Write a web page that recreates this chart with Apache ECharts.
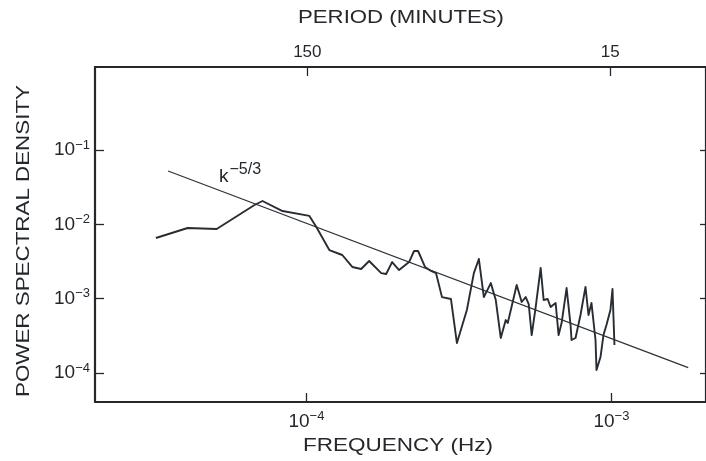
<!DOCTYPE html>
<html>
<head>
<meta charset="utf-8">
<script src="https://cdn.jsdelivr.net/npm/echarts@6.0.0/dist/echarts.min.js"></script>
<style>
  html, body { margin: 0; padding: 0; background: #ffffff; }
  #chart { width: 706px; height: 461px; }
</style>
</head>
<body>
<div id="chart"></div>
<script>
// Measured spectrum: frequency (Hz) and power spectral density
const freqHz = [
  3.21e-5, 4.08e-5, 5.08e-5, 6.76e-5, 7.18e-5, 8.35e-5, 1.023e-4, 1.078e-4,
  1.189e-4, 1.311e-4, 1.414e-4, 1.512e-4, 1.606e-4, 1.759e-4, 1.826e-4, 1.910e-4,
  2.013e-4, 2.171e-4, 2.254e-4, 2.323e-4, 2.448e-4, 2.562e-4, 2.660e-4, 2.783e-4,
  2.978e-4, 3.115e-4, 3.358e-4, 3.540e-4, 3.676e-4, 3.817e-4, 4.023e-4, 4.177e-4,
  4.337e-4, 4.503e-4, 4.572e-4, 4.891e-4, 5.079e-4, 5.236e-4, 5.355e-4, 5.477e-4,
  5.645e-4, 5.861e-4, 5.995e-4, 6.178e-4, 6.319e-4, 6.562e-4, 6.711e-4, 6.865e-4,
  7.128e-4, 7.345e-4, 7.400e-4, 7.626e-4, 7.918e-4, 8.222e-4, 8.410e-4, 8.603e-4,
  8.867e-4, 8.934e-4, 9.208e-4, 9.416e-4, 9.631e-4, 9.925e-4, 1.008e-3, 1.023e-3
];
const psd = [
  6.55e-3, 8.93e-3, 8.66e-3, 1.82e-2, 2.06e-2, 1.51e-2, 1.30e-2, 9.21e-3,
  4.51e-3, 3.87e-3, 2.67e-3, 2.51e-3, 3.21e-3, 2.21e-3, 2.15e-3, 3.11e-3,
  2.43e-3, 3.11e-3, 4.38e-3, 4.38e-3, 2.67e-3, 2.36e-3, 2.21e-3, 1.05e-3,
  9.89e-4, 2.53e-4, 7.04e-4, 2.21e-3, 3.42e-3, 1.05e-3, 1.62e-3, 9.59e-4,
  2.96e-4, 5.16e-4, 4.70e-4, 1.53e-3, 9.02e-4, 1.05e-3, 8.48e-4, 3.24e-4,
  7.72e-4, 2.59e-3, 9.59e-4, 9.89e-4, 7.72e-4, 8.74e-4, 3.24e-4, 4.70e-4,
  1.39e-3, 4.42e-4, 2.78e-4, 2.96e-4, 6.03e-4, 1.44e-3, 6.03e-4, 8.74e-4,
  2.78e-4, 1.10e-4, 1.64e-4, 3.24e-4, 4.42e-4, 7.04e-4, 1.35e-3, 2.38e-4
];

// Reference power law (k^-5/3) end points
const slopeFreq = [3.52e-5, 1.785e-3];
const slopePsd = [5.22e-2, 1.18e-4];

// Tick values
const freqTicks = [1e-4, 1e-3];
const psdTicks = [1e-4, 1e-3, 1e-2, 1e-1];
const periodTicks = [150, 15];

// Texts
const xTitle = 'FREQUENCY (Hz)';
const topTitle = 'PERIOD (MINUTES)';
const yTitle = 'POWER SPECTRAL DENSITY';
const slopeLabel = ['k', '\u22125/3'];

const ink = '#24282c';
const lg = Math.log10;

// Axis extents in decades
const xMin = -4.693, xMax = -2.690;
const yMin = -4.39, yMax = 0.117;
const pMin = 0.860, pMax = 2.877;

const FONT = '"Liberation Sans", Arial, Helvetica, sans-serif';

function powLabel(v) {
  const e = Math.round(v);
  return '{b|10}{s|' + (e < 0 ? '\u2212' : '') + Math.abs(e) + '}';
}
const powRich = {
  b: { fontSize: 19, lineHeight: 23, color: ink, fontFamily: FONT },
  s: { fontSize: 13, lineHeight: 13, color: ink, fontFamily: FONT, verticalAlign: 'top' }
};

// horizontal stretch so the wide-set titles keep their length
const mctx = document.createElement('canvas').getContext('2d');
function stretch(text, size, target) {
  mctx.font = size + 'px ' + FONT;
  return target / mctx.measureText(text).width;
}

const chart = echarts.init(document.getElementById('chart'), null, { renderer: 'canvas' });

const frameLine = { show: true, onZero: false, lineStyle: { color: ink, width: 2.2 } };
const tickStyle = { color: ink, width: 1.3 };

chart.setOption({
  animation: false,
  backgroundColor: '#ffffff',
  grid: { left: 95, top: 67, width: 613, height: 335, show: false },
  xAxis: [
    {
      type: 'value', position: 'bottom', min: xMin, max: xMax,
      axisLine: frameLine,
      axisTick: { show: true, inside: true, length: 9, customValues: freqTicks.map(lg), lineStyle: tickStyle },
      axisLabel: { show: true, margin: 8, customValues: freqTicks.map(lg), formatter: powLabel, rich: powRich },
      splitLine: { show: false }
    },
    {
      type: 'value', position: 'top', min: pMin, max: pMax, inverse: true,
      axisLine: frameLine,
      axisTick: { show: true, inside: true, length: 9, customValues: periodTicks.map(lg), lineStyle: tickStyle },
      axisLabel: {
        show: true, margin: 6, customValues: periodTicks.map(lg),
        formatter: v => String(Math.round(Math.pow(10, v))),
        color: ink, fontSize: 17, fontFamily: FONT
      },
      splitLine: { show: false }
    }
  ],
  yAxis: [
    {
      type: 'value', position: 'left', min: yMin, max: yMax,
      axisLine: frameLine,
      axisTick: { show: true, inside: true, length: 9, customValues: psdTicks.map(lg), lineStyle: tickStyle },
      axisLabel: { show: true, margin: 5, customValues: psdTicks.map(lg), formatter: powLabel, rich: powRich },
      splitLine: { show: false }
    },
    {
      type: 'value', position: 'right', min: yMin, max: yMax,
      axisLine: frameLine,
      axisTick: { show: true, inside: true, length: 6, customValues: psdTicks.map(lg), lineStyle: tickStyle },
      axisLabel: { show: false },
      splitLine: { show: false }
    }
  ],
  series: [
    {
      name: 'spectrum', type: 'line', xAxisIndex: 0, yAxisIndex: 0,
      data: freqHz.map((f, i) => [lg(f), lg(psd[i])]),
      showSymbol: false, symbol: 'none', smooth: false,
      lineStyle: { color: '#272d33', width: 1.9, join: 'round' }, z: 3
    },
    {
      name: 'k-5/3', type: 'line', xAxisIndex: 0, yAxisIndex: 0,
      data: slopeFreq.map((f, i) => [lg(f), lg(slopePsd[i])]),
      showSymbol: false, symbol: 'none',
      lineStyle: { color: '#2e3236', width: 1.2 }, z: 2
    }
  ],
  graphic: [
    {
      type: 'text', x: 398, y: 446, scaleX: stretch(xTitle, 18, 190),
      style: { text: xTitle, font: '18px ' + FONT, fill: ink, align: 'center', verticalAlign: 'middle' }
    },
    {
      type: 'text', x: 401, y: 18, scaleX: stretch(topTitle, 18, 206),
      style: { text: topTitle, font: '18px ' + FONT, fill: ink, align: 'center', verticalAlign: 'middle' }
    },
    {
      type: 'text', x: 24, y: 241, rotation: Math.PI / 2, scaleX: stretch(yTitle, 18, 312),
      style: { text: yTitle, font: '18px ' + FONT, fill: ink, align: 'center', verticalAlign: 'middle' }
    },
    {
      type: 'text', x: 219, y: 162,
      style: {
        text: '{k|' + slopeLabel[0] + '}{e|' + slopeLabel[1] + '}',
        align: 'left', verticalAlign: 'top', fill: ink,
        rich: {
          k: { fontSize: 19, lineHeight: 30, fontFamily: FONT, fill: ink },
          e: { fontSize: 16, lineHeight: 16, fontFamily: FONT, fill: ink, verticalAlign: 'top', padding: [0, 0, 0, 1] }
        }
      }
    }
  ]
});
</script>
</body>
</html>
